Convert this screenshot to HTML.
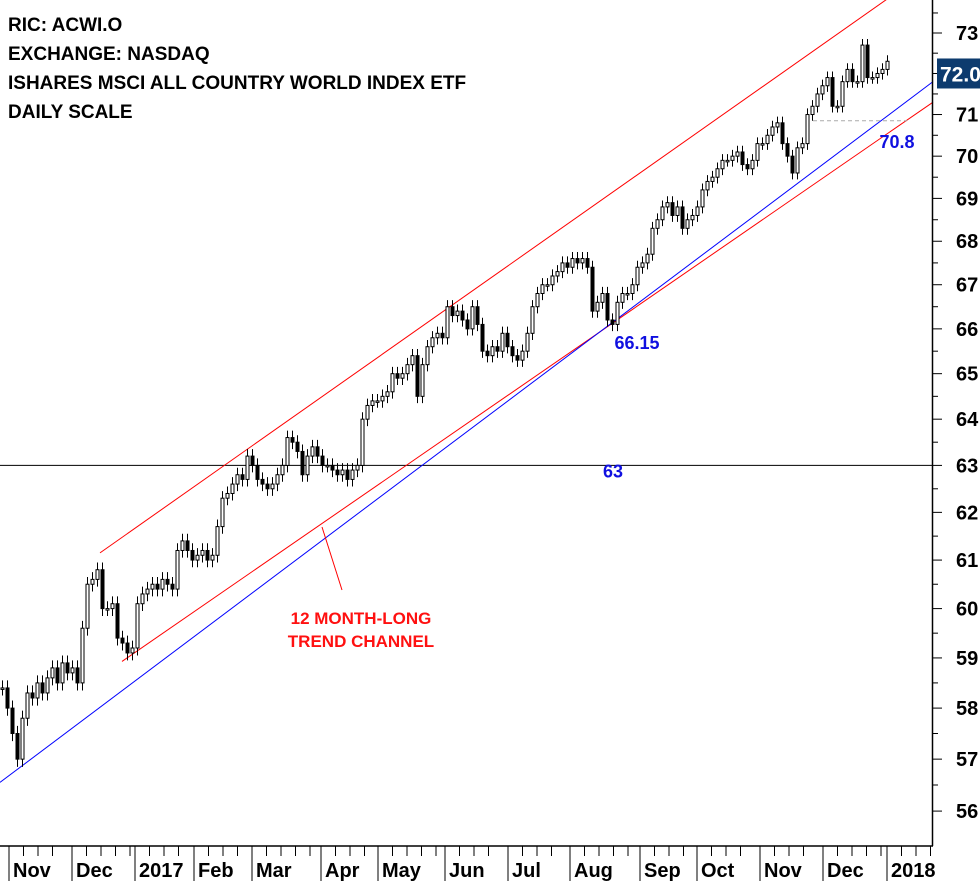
<!DOCTYPE html>
<html><head><meta charset="utf-8"><style>
body{margin:0;background:#fff;}
svg{display:block;font-family:"Liberation Sans",sans-serif;}
</style></head><body>
<svg id="chart" width="980" height="881" viewBox="0 0 980 881">
<g id="title" font-weight="bold" font-size="19" fill="#000">
<text x="8" y="31">RIC: ACWI.O</text>
<text x="8" y="60">EXCHANGE: NASDAQ</text>
<text x="8" y="89">ISHARES MSCI ALL COUNTRY WORLD INDEX ETF</text>
<text x="8" y="118">DAILY SCALE</text>
</g>
<g id="grid"></g>
<g id="lines"></g>
<g id="candles"></g>
<g id="axes"></g>
<g id="annot"></g>
</svg>
<script>
const closes=[58.4,58.0,57.5,57.0,57.8,58.3,58.2,58.5,58.3,58.6,58.8,58.5,58.9,58.7,58.8,58.5,59.6,60.5,60.6,60.8,60.0,60.0,60.1,59.4,59.3,59.1,59.2,60.1,60.3,60.4,60.5,60.4,60.6,60.5,60.4,61.2,61.4,61.2,61.0,61.1,61.2,61.0,61.1,61.7,62.3,62.4,62.6,62.8,62.7,63.2,63.0,62.7,62.6,62.5,62.6,62.8,63.0,63.6,63.5,63.3,62.8,63.2,63.4,63.2,63.0,63.0,62.9,62.8,62.9,62.7,62.9,63.0,64.0,64.3,64.4,64.4,64.5,64.6,65.0,64.9,65.0,65.2,65.4,64.5,65.2,65.6,65.8,65.9,65.8,66.5,66.3,66.4,66.2,66.0,66.5,66.1,65.5,65.4,65.6,65.5,65.9,65.6,65.4,65.3,65.5,65.9,66.5,66.8,67.0,67.0,67.2,67.3,67.5,67.4,67.6,67.5,67.6,67.4,66.4,66.6,66.8,66.2,66.1,66.6,66.8,66.8,67.0,67.4,67.5,67.7,68.3,68.5,68.8,68.9,68.6,68.8,68.3,68.5,68.6,68.8,69.2,69.4,69.5,69.7,69.9,69.9,70.0,70.1,69.8,69.7,69.9,70.3,70.3,70.5,70.7,70.8,70.3,70.0,69.6,70.2,70.3,71.0,71.2,71.5,71.7,71.9,71.2,71.2,71.8,72.1,71.8,71.8,72.7,71.9,71.9,72.0,72.1,72.3];
const yTicks=[56,57,58,59,60,61,62,63,64,65,66,67,68,69,70,71,72,73];
const yLabels=["56","57","58","59","60","61","62","63","64","65","66","67","68","69","70","71","","73"];
const monthLabels=["Nov","Dec","2017","Feb","Mar","Apr","May","Jun","Jul","Aug","Sep","Oct","Nov","Dec","2018"];
const monthStarts=[1.4,14,26.6,38.4,50,63.8,75.2,88.6,101.2,113.6,127.6,139,151.6,164.2,177];
const lastPrice=72.0;
const levels=[63];
// trendlines defined in (index, price)
const upperChannel=[[19.6,61.15],[177.6,73.9]];
const lowerChannel=[[24,58.93],[186.2,71.3]];
const blueTrend=[[-0.4,56.55],[186.2,71.8]];

const NS="http://www.w3.org/2000/svg";
const K=2935, Y0=33;
function y(v){return Y0+(Math.log(73)-Math.log(v))*K;}
function x(i){return 2+i*5;}
function mk(tag,attrs,parent){const e=document.createElementNS(NS,tag);for(const k in attrs)e.setAttribute(k,attrs[k]);parent.appendChild(e);return e;}
const G=id=>document.getElementById(id);

levels.forEach(l=>{
 const e=mk('line',{x1:0,x2:932,y1:y(l),y2:y(l),stroke:'#000','stroke-width':1},G('grid'));
 
 
 const t=mk('text',{x:613,y:y(l)+12,'font-size':18,'font-weight':'bold',fill:'#1010e0','text-anchor':'middle'},G('annot'));
 t.textContent=String(l);
 
 
});
function tl(p,col,name){
 const e=mk('line',{x1:x(p[0][0]),y1:y(p[0][1]),x2:x(p[1][0]),y2:y(p[1][1]),stroke:col,'stroke-width':1},G('lines'));
 
 
}
tl(upperChannel,'#ff0000','upper-channel-line');
tl(lowerChannel,'#ff0000','lower-channel-line');
tl(blueTrend,'#0000ff','blue-trendline');

closes.forEach((c,i)=>{
 const o=i>0?closes[i-1]:c;
 const hi=Math.max(o,c)+0.15, lo=Math.min(o,c)-0.15;
 const g=mk('g',{},G('candles'));
 
 
 const cx=x(i)+0.5;
 mk('line',{x1:cx,x2:cx,y1:y(hi),y2:y(lo),stroke:'#000','stroke-width':1},g);
 const top=y(Math.max(o,c)), h=Math.max(1.5,y(Math.min(o,c))-top);
 mk('rect',{x:cx-1.5,y:top,width:3,height:h,fill:c<o?'#000':'#fff',stroke:'#000','stroke-width':1},g);
});

const ax=G('axes');
let e=mk('line',{x1:932.5,x2:932.5,y1:0,y2:846,stroke:'#000','stroke-width':1.5},ax);


e=mk('line',{x1:0,x2:933,y1:846,y2:846,stroke:'#000','stroke-width':1.5},ax);


yTicks.forEach((v,k)=>{
 mk('line',{x1:932,x2:942,y1:y(v),y2:y(v),stroke:'#000'},ax);
 mk('line',{x1:932,x2:938,y1:y(v+0.5),y2:y(v+0.5),stroke:'#000'},ax);
 if(yLabels[k]){
  const t=mk('text',{x:956,y:y(v)+7,'font-size':20,'font-weight':'bold',fill:'#000'},ax);
  t.textContent=yLabels[k];
  
  
 }
});
monthStarts.forEach((m,k)=>{
 const px=x(m);
 mk('line',{x1:px,x2:px,y1:846,y2:881,stroke:'#000'},ax);
 const next=k<monthStarts.length-1?monthStarts[k+1]:m+12.6;
 for(let w=m+2.9;w<next-1;w+=2.9){mk('line',{x1:x(w),x2:x(w),y1:846,y2:856,stroke:'#000'},ax);}
 const t=mk('text',{x:px+4,y:877,'font-size':20,'font-weight':'bold',fill:'#000'},ax);
 t.textContent=monthLabels[k];
 
 
});

const an=G('annot');
e=mk('line',{x1:322,y1:527,x2:342,y2:590,stroke:'#ff0000'},an);


[['12 MONTH-LONG',624],['TREND CHANNEL',647]].forEach(([s,yy])=>{
 const t=mk('text',{x:361,y:yy,'font-size':17,'font-weight':'bold',fill:'#ff1010','text-anchor':'middle'},an);
 t.textContent=s;
 
 
});
let t=mk('text',{x:637,y:349,'font-size':18,'font-weight':'bold',fill:'#1010e0','text-anchor':'middle'},an);
t.textContent='66.15';


e=mk('line',{x1:813,x2:907,y1:y(70.85),y2:y(70.85),stroke:'#aaa','stroke-dasharray':'4,3'},an);


t=mk('text',{x:897,y:148,'font-size':18,'font-weight':'bold',fill:'#1010e0','text-anchor':'middle'},an);
t.textContent='70.8';


e=mk('rect',{x:937,y:y(lastPrice)-15,width:43,height:30,fill:'#0d3b6e'},an);


t=mk('text',{x:940,y:y(lastPrice)+8,'font-size':21,'font-weight':'bold',fill:'#fff'},an);
t.textContent=lastPrice.toFixed(1);


</script>
</body></html>
